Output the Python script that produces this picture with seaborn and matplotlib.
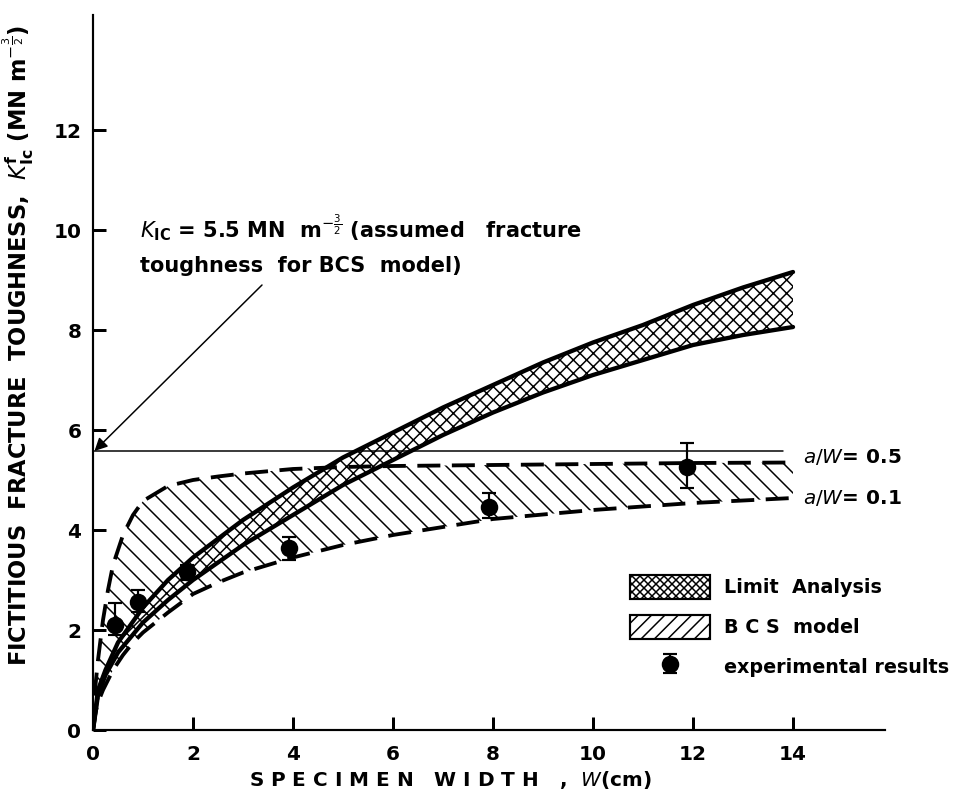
import numpy as np
import pandas as pd
import matplotlib
matplotlib.use("Agg")
import matplotlib.pyplot as plt
from matplotlib.patches import Patch
import seaborn as sns

# ---------------- data ----------------
# Limit analysis band (solid curves)
la_x = [0, 0.1, 0.25, 0.5, 1, 1.5, 2, 3, 4, 5, 6, 7, 8, 9, 10, 11, 12, 13, 14]
la_upper = [0, 0.8, 1.2, 1.75, 2.45, 3.0, 3.45, 4.2, 4.85, 5.45, 5.95, 6.45, 6.9, 7.35, 7.75, 8.1, 8.5, 8.85, 9.16]
la_lower = [0, 0.7, 1.1, 1.55, 2.15, 2.6, 3.0, 3.7, 4.3, 4.9, 5.4, 5.9, 6.35, 6.75, 7.1, 7.4, 7.7, 7.9, 8.06]

# BCS model band (dashed curves)
bcs_x = [0, 0.05, 0.1, 0.2, 0.3, 0.4, 0.6, 0.8, 1.0, 1.5, 2, 2.5, 3, 4, 5, 6, 8, 10, 12, 14]
bcs_aw05 = [0, 0.9, 1.4, 2.2, 2.8, 3.3, 3.9, 4.3, 4.58, 4.88, 5.0, 5.07, 5.13, 5.22, 5.26, 5.28, 5.3, 5.32, 5.34, 5.35]
bcs_aw01 = [0, 0.35, 0.55, 0.8, 1.0, 1.2, 1.5, 1.75, 1.95, 2.35, 2.72, 2.95, 3.15, 3.45, 3.7, 3.9, 4.22, 4.4, 4.54, 4.64]

# Assumed fracture toughness line
kic_value = 5.58
kic_x = [0, 13.8]

# Experimental results
exp_w = [0.44, 0.9, 1.88, 3.92, 7.92, 11.88]
exp_k = [2.1, 2.56, 3.16, 3.64, 4.46, 5.26]
exp_err_up = [0.45, 0.25, 0.15, 0.22, 0.28, 0.48]
exp_err_dn = [0.2, 0.2, 0.15, 0.24, 0.22, 0.42]

x_ticks = [0, 2, 4, 6, 8, 10, 12, 14]
y_ticks = [0, 2, 4, 6, 8, 10, 12]

# ---------------- style ----------------
sns.set_style("ticks")
plt.rcParams["font.family"] = ["DejaVu Sans"]
plt.rcParams["mathtext.fontset"] = "dejavusans"
plt.rcParams["hatch.linewidth"] = 0.9
plt.rcParams["text.color"] = "black"
plt.rcParams["axes.labelcolor"] = "black"
plt.rcParams["xtick.color"] = "black"
plt.rcParams["ytick.color"] = "black"

DPI = 120
fig = plt.figure(figsize=(965 / DPI, 797 / DPI), dpi=DPI)
ax = fig.add_axes([93 / 965, 1 - 730 / 797, (885 - 93) / 965, (730 - 15) / 797])

la_df = pd.DataFrame({"W": la_x, "upper": la_upper, "lower": la_lower})
bcs_df = pd.DataFrame({"W": bcs_x, "a05": bcs_aw05, "a01": bcs_aw01})

# BCS hatched band
ax.fill_between(bcs_df["W"], bcs_df["a01"], bcs_df["a05"], facecolor="none",
                edgecolor="black", hatch="\\\\", linewidth=0, zorder=1)
dash = (0, (6, 3))
sns.lineplot(data=bcs_df, x="W", y="a05", ax=ax, color="black", lw=2.3,
             linestyle=dash, sort=False, estimator=None, zorder=3)
sns.lineplot(data=bcs_df, x="W", y="a01", ax=ax, color="black", lw=2.3,
             linestyle=dash, sort=False, estimator=None, zorder=3)

# Limit analysis cross-hatched band
ax.fill_between(la_df["W"], la_df["lower"], la_df["upper"], facecolor="white",
                edgecolor="black", hatch="xxx", linewidth=0, zorder=2)
sns.lineplot(data=la_df, x="W", y="upper", ax=ax, color="black", lw=2.6,
             sort=False, estimator=None, zorder=4)
sns.lineplot(data=la_df, x="W", y="lower", ax=ax, color="black", lw=2.6,
             sort=False, estimator=None, zorder=4)

# K_Ic line
ax.plot(kic_x, [kic_value, kic_value], color="black", lw=0.9, zorder=3)

# experimental points
eb = ax.errorbar(exp_w, exp_k, yerr=[exp_err_dn, exp_err_up], fmt="o",
                 color="black", ms=9.5, elinewidth=1.3, capsize=4, capthick=1.3,
                 zorder=5)

# annotations
ax.annotate("", xy=(0.03, kic_value), xytext=(3.38, 8.9),
            arrowprops=dict(arrowstyle="-|>", color="black", lw=0.9,
                            mutation_scale=16, shrinkA=0, shrinkB=0))
ax.text(0.94, 10.05, r"$\mathit{K}_{\mathbf{IC}}$ = 5.5 MN  m$^{-\frac{3}{2}}$ (assumed   fracture",
        fontsize=12.5, fontweight="bold", va="center", ha="left")
ax.text(0.94, 9.28, "toughness  for BCS  model)", fontsize=12.5,
        fontweight="bold", va="center", ha="left")
ax.text(14.2, 5.46, r"$\mathit{a/W}$= 0.5", fontsize=12, fontweight="bold",
        va="center", ha="left")
ax.text(14.2, 4.64, r"$\mathit{a/W}$= 0.1", fontsize=12, fontweight="bold",
        va="center", ha="left")

# legend
handles = [
    Patch(facecolor="white", edgecolor="black", hatch="xxxxx", linewidth=1.3),
    Patch(facecolor="white", edgecolor="black", hatch="///", linewidth=1.3),
    eb,
]
labels = ["Limit  Analysis", "B C S  model", "experimental results"]
leg = ax.legend(handles, labels, loc="upper left",
                bbox_to_anchor=((620 - 93) / 792, 1 - (565 - 15) / 715),
                frameon=False, handlelength=4.2, handleheight=1.6,
                labelspacing=0.8, handletextpad=0.7, borderpad=0,
                prop=dict(size=11.5, weight="bold"))

# axes styling
ax.set_xlim(0, 15.84)
ax.set_ylim(0, 14.3)
ax.set_xticks(x_ticks)
ax.set_yticks(y_ticks)
ax.set_xticklabels([str(t) for t in x_ticks], fontweight="bold", fontsize=12)
ax.set_yticklabels([str(t) for t in y_ticks], fontweight="bold", fontsize=12)
ax.tick_params(direction="in", length=8, width=1.8, pad=7, colors="black")
ax.tick_params(axis="x", pad=9)
sns.despine(ax=ax)
for s in ("left", "bottom"):
    ax.spines[s].set_linewidth(1.3)
    ax.spines[s].set_color("black")

ax.set_xlabel(r"S P E C I M E N   W I D T H   ,  $\mathit{W}$(cm)",
              fontsize=12, fontweight="bold")
ax.xaxis.set_label_coords((450 - 93) / 792, -0.055)
ax.set_ylabel(r"FICTITIOUS  FRACTURE  TOUGHNESS,  "
              r"$\mathit{K}^{\mathbf{f}}_{\mathbf{Ic}}$ (MN $\mathbf{m}^{-\frac{3}{2}}$)",
              fontsize=13.5, fontweight="bold")
ax.yaxis.set_label_coords(-(93 - 36) / 792, (730 - 345) / 715)

fig.savefig("out.png", dpi=DPI)
